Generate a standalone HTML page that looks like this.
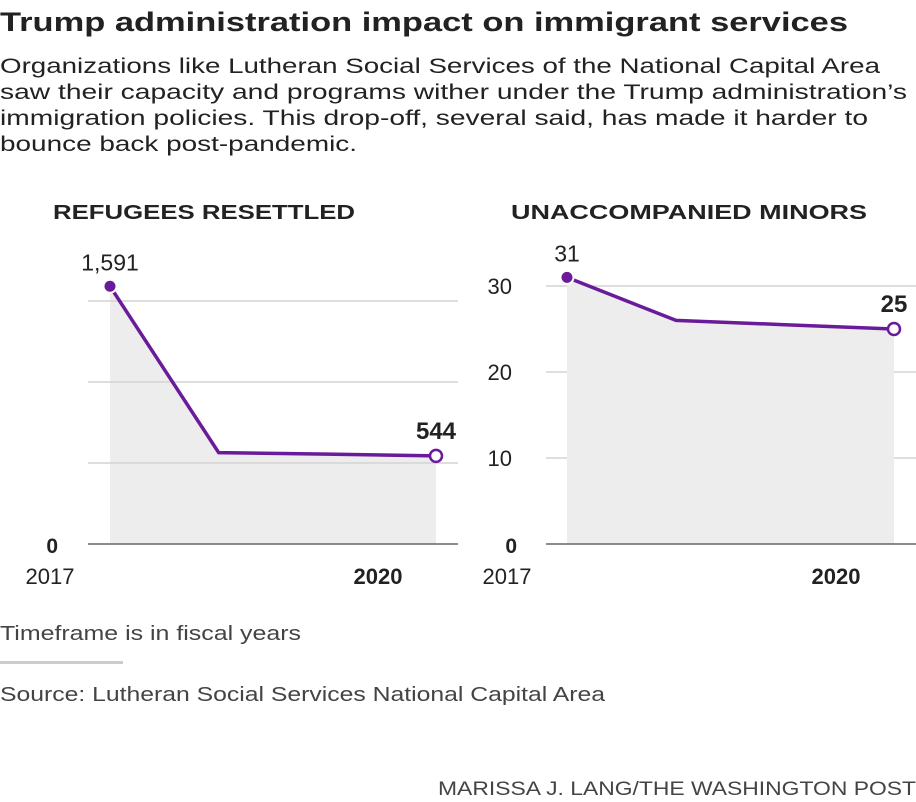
<!DOCTYPE html>
<html><head><meta charset="utf-8"><style>
html,body{margin:0;padding:0;background:#fff;}
svg{display:block;font-family:"Liberation Sans",sans-serif;}
</style></head><body>
<svg id="c" width="916" height="802" viewBox="0 0 916 802">
<text x="0" y="31" font-size="27" font-weight="bold" fill="#222" textLength="848" lengthAdjust="spacingAndGlyphs">Trump administration impact on immigrant services</text>
<g font-size="21" fill="#222">
<text x="0" y="73" textLength="880" lengthAdjust="spacingAndGlyphs">Organizations like Lutheran Social Services of the National Capital Area</text>
<text x="0" y="99" textLength="907" lengthAdjust="spacingAndGlyphs">saw their capacity and programs wither under the Trump administration’s</text>
<text x="0" y="125" textLength="868" lengthAdjust="spacingAndGlyphs">immigration policies. This drop-off, several said, has made it harder to</text>
<text x="0" y="151" textLength="357" lengthAdjust="spacingAndGlyphs">bounce back post-pandemic.</text>
</g>
<text x="53" y="219" font-size="20" font-weight="bold" fill="#222" textLength="302" lengthAdjust="spacingAndGlyphs">REFUGEES RESETTLED</text>
<text x="511" y="219" font-size="20" font-weight="bold" fill="#222" textLength="356" lengthAdjust="spacingAndGlyphs">UNACCOMPANIED MINORS</text>
<g id="left"></g>
<g id="right"></g>
<text x="0" y="640" font-size="20" fill="#444" textLength="301" lengthAdjust="spacingAndGlyphs">Timeframe is in fiscal years</text>
<rect x="0" y="661" width="123" height="3" fill="#ccc"/>
<text x="0" y="701" font-size="20" fill="#444" textLength="605" lengthAdjust="spacingAndGlyphs">Source: Lutheran Social Services National Capital Area</text>
<text x="916" y="795" font-size="19" fill="#444" text-anchor="end" textLength="478" lengthAdjust="spacingAndGlyphs">MARISSA J. LANG/THE WASHINGTON POST</text>
</svg>
<script>
const years = [2017, 2018, 2019, 2020];
const refugees = [1591, 564, 555, 544];
const minors = [31, 26, 25.5, 25];
const refugeeTicks = [500, 1000, 1500];
const minorTicks = [10, 20, 30];
const minorTickLabels = ["10", "20", "30"];

const NS = "http://www.w3.org/2000/svg";
function mk(parent, tag, attrs) {
  const e = document.createElementNS(NS, tag);
  for (const k in attrs) e.setAttribute(k, attrs[k]);
  parent.appendChild(e);
  return e;
}
function panel(g, vals, ticks, x0, x1, yMax, gridX0, gridX1, gridOver, firstLabel, lastLabel) {
  const base = 544;
  const yTop = ticks[ticks.length - 1];
  const sy = v => base - v / yTop * (base - yMax);
  const sx = yr => x0 + (yr - years[0]) / (years[years.length - 1] - years[0]) * (x1 - x0);
  const grid = () => ticks.forEach((t) => {
    const l = mk(g, "line", {x1: gridX0, x2: gridX1, y1: sy(t), y2: sy(t), stroke: "#d4d4d4", "stroke-width": 1.5});
    
    
  });
  if (!gridOver) grid();
  let d = "M" + sx(years[0]) + "," + base;
  years.forEach((y, i) => d += " L" + sx(y) + "," + sy(vals[i]));
  d += " L" + sx(years[years.length - 1]) + "," + base + " Z";
  const area = mk(g, "path", {d: d, fill: "#ededed"});
  
  
  if (gridOver) grid();
  const bl = mk(g, "line", {x1: gridX0, x2: gridX1, y1: base, y2: base, stroke: "#666", "stroke-width": 1.5});
  
  
  const pts = years.map((y, i) => sx(y) + "," + sy(vals[i])).join(" ");
  const line = mk(g, "polyline", {points: pts, fill: "none", stroke: "#6a1b9a", "stroke-width": 3.5});
  
  
  const c1 = mk(g, "circle", {cx: sx(years[0]), cy: sy(vals[0]), r: 6.5, fill: "#6a1b9a", stroke: "#fff", "stroke-width": 2});
  
  
  const n = vals.length - 1;
  const c2 = mk(g, "circle", {cx: sx(years[n]), cy: sy(vals[n]), r: 6, fill: "#fff", stroke: "#6a1b9a", "stroke-width": 2.5});
  
  
  const t1 = mk(g, "text", {x: sx(years[0]), y: sy(vals[0]) - 16, "font-size": 23, fill: "#222", "text-anchor": "middle"});
  t1.textContent = firstLabel;
  
  
  const t2 = mk(g, "text", {x: sx(years[n]), y: sy(vals[n]) - 17, "font-size": 24, "font-weight": "bold", fill: "#222", "text-anchor": "middle"});
  t2.textContent = lastLabel;
  
  
  return {sy: sy, sx: sx};
}
const L = document.getElementById("left");
const R = document.getElementById("right");
const lp = panel(L, refugees, refugeeTicks, 110, 436, 301, 88, 458, true, refugees[0].toLocaleString("en-US"), String(refugees[3]));
const rp = panel(R, minors, minorTicks, 567, 894, 286, 546, 916, false, String(minors[0]), String(minors[3]));
minorTicks.forEach((t, i) => {
  const tx = mk(R, "text", {x: 512, y: rp.sy(t) + 8, "font-size": 22, fill: "#222", "text-anchor": "end"});
  tx.textContent = minorTickLabels[i];
  
  
});
[[58, L], [517, R]].forEach(([x, g]) => {
  const z = mk(g, "text", {x: x, y: 553, "font-size": 21, "font-weight": "bold", fill: "#222", "text-anchor": "end"});
  z.textContent = "0";
  
  
});
[[lp, L, 50], [rp, R, 507]].forEach(([p, g, x]) => {
  const a = mk(g, "text", {x: x, y: 584, "font-size": 22, fill: "#222", "text-anchor": "middle"});
  a.textContent = String(years[0]);
  
  
  const b = mk(g, "text", {x: p.sx(years[3]) - 58, y: 584, "font-size": 22, "font-weight": "bold", fill: "#222", "text-anchor": "middle"});
  b.textContent = String(years[3]);
  
  
});
</script>
</body></html>
